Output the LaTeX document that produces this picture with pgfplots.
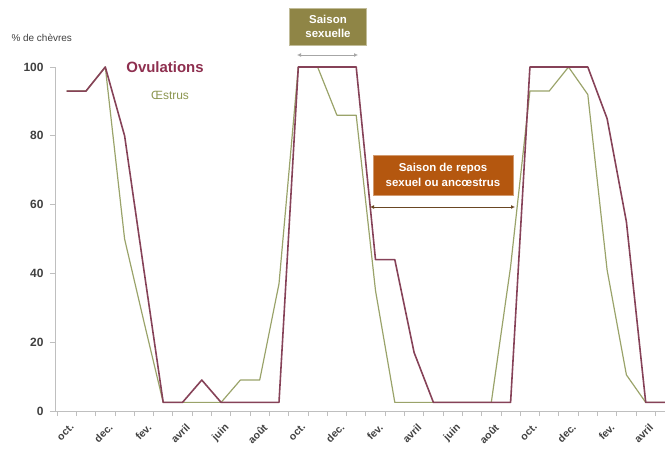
\documentclass[border=0pt]{standalone}
\usepackage{fontspec}
\setmainfont{Liberation Sans}
\usepackage{pgfplots}
\pgfplotsset{compat=1.18}
\usetikzlibrary{arrows.meta}
\definecolor{ovu}{HTML}{864258}
\definecolor{ovutxt}{HTML}{8E2F4F}
\definecolor{oes}{HTML}{9AA36A}
\definecolor{oestxt}{HTML}{8C9650}
\definecolor{boxolive}{HTML}{8F8546}
\definecolor{boxrust}{HTML}{B4570F}
\definecolor{axgray}{HTML}{BFBFBF}
\definecolor{txt}{HTML}{404040}
\begin{document}
\begin{tikzpicture}
\path[use as bounding box] (0,0) rectangle (665bp,450bp);
\begin{axis}[
  at={(55bp,39bp)}, anchor=south west, scale only axis,
  width=610bp, height=344bp,
  xmin=-0.606, xmax=31, ymin=0, ymax=100,
  axis lines=left, axis line style={-, draw=axgray, line width=0.8pt},
  tick align=outside, major tick length=0pt, minor tick length=5bp,
  tick style={draw=axgray, line width=0.8pt},
  xtick={0,2,...,30},
  xticklabels={oct.,dec.,fev.,avril,juin,août,oct.,dec.,fev.,avril,juin,août,oct.,dec.,fev.,avril},
  minor xtick={-0.5,0.5,...,30.5},
  xticklabel style={font=\bfseries\fontsize{10.5}{10.5}\selectfont, text=txt, rotate=45, anchor=north east, yshift=-7bp, xshift=-3bp},
  ytick={0,20,...,100},
  minor ytick={0,20,...,100},
  yticklabel style={font=\bfseries\fontsize{12}{12}\selectfont, text=txt, xshift=-8bp},
  /pgf/number format/assume math mode=true,
  clip=false,
]
\addplot[oes, line width=1.2pt, line join=round] coordinates {
(0,93) (1,93) (2,100) (3,50) (4,26) (5,2.5) (6,2.5) (7,2.5) (8,2.5) (9,9) (10,9) (11,37)
(12,100) (13,100) (14,86) (15,86) (16,35) (17,2.5) (18,2.5) (19,2.5) (20,2.5) (21,2.5) (22,2.5)
(23,42) (24,93) (25,93) (26,100) (27,92) (28,41) (29,10.5) (30,2.5) (31,2.5)};
\addplot[ovu, line width=1.6pt, line join=round] coordinates {
(0,93) (1,93) (2,100) (3,80) (4,41) (5,2.5) (6,2.5) (7,9) (8,2.5) (9,2.5) (10,2.5) (11,2.5)
(12,100) (13,100) (14,100) (15,100) (16,44) (17,44) (18,17) (19,2.5) (20,2.5) (21,2.5) (22,2.5)
(23,2.5) (24,100) (25,100) (26,100) (27,100) (28,85) (29,55) (30,2.5) (31,2.5)};
\end{axis}
\node[anchor=west, font=\fontsize{10}{10}\selectfont, text=txt] at (8bp,412bp) {\% de chèvres};
\node[font=\bfseries\fontsize{15}{15}\selectfont, text=ovutxt] at (165bp,383bp) {Ovulations};
\node[font=\fontsize{12}{12}\selectfont, text=oestxt] at (170bp,355bp) {Œstrus};
\node[font=\bfseries\fontsize{11.5}{14}\selectfont, text=white, fill=boxolive, draw=boxolive!55!white, line width=0.8pt,
  minimum width=77bp, minimum height=37bp, align=center, inner sep=1bp] at (328bp,423.5bp) {Saison\\sexuelle};
\draw[{Latex[length=4bp,width=4bp]}-{Latex[length=4bp,width=4bp]}, draw=gray!70, line width=0.8pt] (297bp,395bp) -- (358bp,395bp);
\node[font=\bfseries\fontsize{11.5}{15}\selectfont, text=white, fill=boxrust, draw=boxrust!60!white, line width=0.8pt,
  minimum width=140bp, minimum height=40bp, align=center, inner sep=1bp] at (443bp,275bp) {Saison de repos\\sexuel ou ancœstrus};
\draw[{Latex[length=4bp,width=4bp]}-{Latex[length=4bp,width=4bp]}, draw=black!45!brown, line width=0.8pt] (370bp,243bp) -- (515bp,243bp);
\end{tikzpicture}
\end{document}
